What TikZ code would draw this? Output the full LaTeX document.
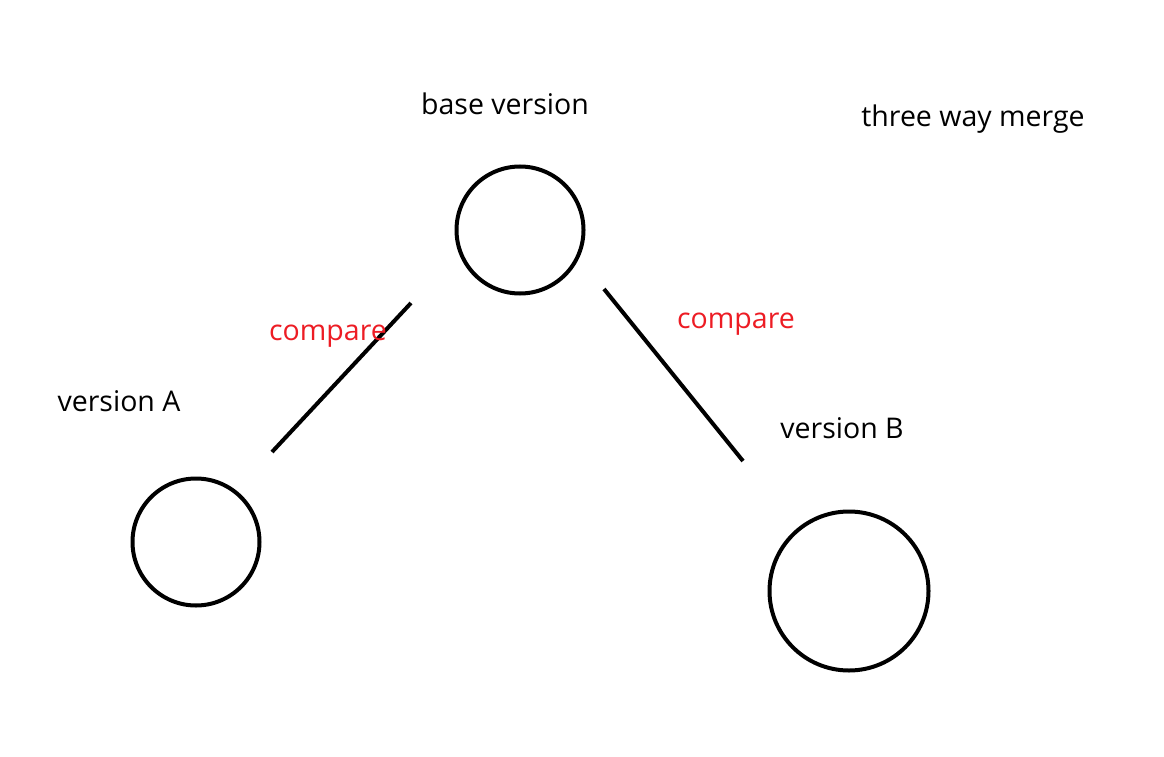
\documentclass[tikz,border=0pt]{standalone}
\usepackage{fontspec}
\setmainfont{Open Sans}
\definecolor{cmpred}{RGB}{237,28,36}
\begin{document}
\begin{tikzpicture}[x=1pt,y=-1pt,
  ver/.style={circle,draw=black,line width=4pt,inner sep=0pt},
  lbl/.style={font=\fontsize{28.5}{33}\selectfont,inner sep=0pt,anchor=center},
  cmp/.style={lbl,text=cmpred},
  link/.style={draw=black,line width=4pt}]
\useasboundingbox[fill=white] (0,0) rectangle (1164,757);
\node[ver,minimum size=127pt] (base) at (520,230) {};
\node[ver,minimum size=127pt] (va) at (196,542) {};
\node[ver,minimum size=159pt] (vb) at (849,591) {};
\coordinate (l1a) at (411,303);
\coordinate (l1b) at (272,452);
\coordinate (l2a) at (604,289);
\coordinate (l2b) at (743,461);
\draw[link] (l1a) -- (l1b);
\draw[link] (l2a) -- (l2b);
\node[lbl] (tbase) at (505,104) {base version};
\node[lbl] (title) at (973,119) {three way merge};
\node[lbl] (ta) at (119,401) {version A};
\node[lbl] (tb) at (842,428) {version B};
\node[cmp] (c1) at (328,336) {compare};
\node[cmp] (c2) at (736,324) {compare};
\end{tikzpicture}
\end{document}
